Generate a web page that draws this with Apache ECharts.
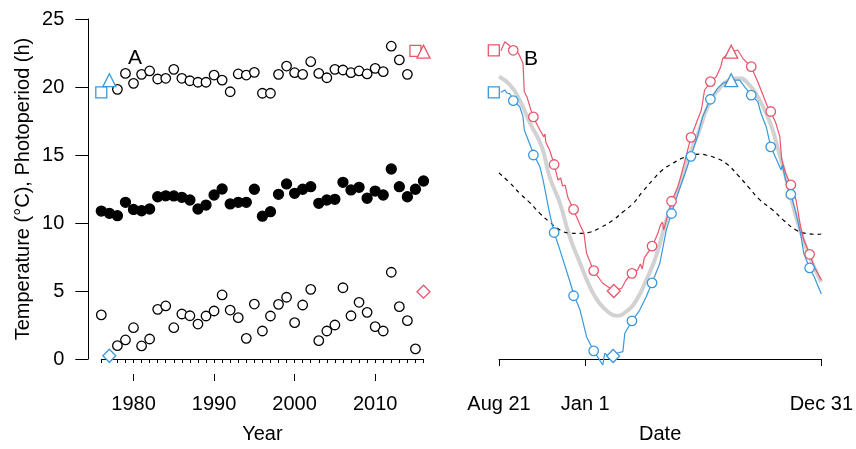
<!DOCTYPE html>
<html>
<head>
<meta charset="utf-8">
<script src="https://cdn.jsdelivr.net/npm/echarts@6/dist/echarts.min.js"></script>
<style>
html,body{margin:0;padding:0;background:#fff}
#main{width:856px;height:449px}
</style>
</head>
<body>
<div id="main"></div>
<script>
// panel A: yearly values
var years = [1976,1977,1978,1979,1980,1981,1982,1983,1984,1985,1986,1987,1988,1989,1990,1991,1992,1993,1994,1995,
  1996,1997,1998,1999,2000,2001,2002,2003,2004,2005,2006,2007,2008,2009,2010,2011,2012,2013,2014,2015,2016];
var tMean = [10.88,10.71,10.54,11.52,11.0,10.9,11.03,11.93,12.0,11.99,11.89,11.69,11.03,11.32,12.06,12.5,11.4,11.52,11.52,12.48,
  10.5,10.83,12.11,12.87,12.18,12.48,12.67,11.45,11.69,11.74,12.99,12.43,12.62,11.82,12.35,12.06,13.97,12.67,11.93,12.48,13.09];
var tMax = [null,null,19.83,21.0,20.27,20.93,21.18,20.59,20.64,21.3,20.64,20.46,20.35,20.35,20.88,20.51,19.65,20.96,20.88,21.08,
  19.54,19.54,20.93,21.54,21.05,20.93,21.86,21.0,20.68,21.3,21.25,21.05,21.18,20.96,21.37,21.13,23.0,21.99,20.93,null,null];
var tMin = [3.24,null,0.98,1.4,2.3,0.96,1.47,3.65,3.9,2.3,3.31,3.18,2.57,3.16,3.53,4.71,3.6,3.04,1.52,4.04,
  2.06,3.16,4.02,4.54,2.67,3.97,5.12,1.35,2.06,2.5,5.24,3.18,4.17,3.43,2.38,2.06,6.38,3.85,2.82,0.74,null];
var yearTicks = [1980,1990,2000,2010];

// panel B: days counted from Aug 21
var dateTicks = [0,133,497];
var dateNames = ['Aug 21','Jan 1','Dec 31'];

var redDay = [3,6,9,12,17,22,30,37,39,43,50,53,63,69,71,72,78,85,91,95,98,102,106,115,125,131,135,146,160,177,189,196,205,214,218,221,224,
  236,245,249,252,254,266,276,283,291,296,306,312,317,326,335,342,345,358,368,376,389,399,406,414,419,427,433,436,442,450,458,465,470,479,486,497];
var redTemp = [22.67,22.72,23.33,23.2,23.01,22.72,22.48,21.74,19.65,19.29,18.18,17.77,16.84,16.35,16.54,15.96,15.37,14.32,13.16,13.31,12.72,12.79,11.91,10.96,9.85,9.24,7.77,6.47,5.57,5.02,5.2,5.81,6.3,6.54,6.99,6.62,7.43,
  8.26,9.24,9.85,10.07,9.49,11.57,12.67,13.9,15.37,16.3,17.57,18.31,19.78,20.35,20.76,21.49,22.11,22.57,22.72,22.11,21.45,20.39,19.54,18.55,18.18,17.33,16.35,14.63,13.65,12.79,11.69,9.73,8.75,7.72,6.79,5.81];

var blueDay = [3,6,9,12,17,23,32,37,39,45,54,63,68,71,78,85,94,107,116,125,135,146,155,160,163,168,176,183,191,194,205,217,227,236,248,253,258,266,276,286,
  296,306,314,326,337,345,358,371,380,389,399,404,412,419,427,435,437,442,450,458,465,470,479,486,497];
var blueTemp = [19.61,19.71,19.78,19.56,19.49,18.99,18.55,17.82,16.84,16.1,15.0,14.14,13.16,12.43,10.71,9.29,8.01,6.05,4.65,3.6,1.64,0.59,-0.07,-0.44,0.42,0.22,0.22,0.44,0.54,1.89,2.79,3.6,4.58,5.61,7.04,8.26,9.49,10.71,12.18,13.53,
  14.93,16.35,17.82,19.12,19.9,20.27,20.51,20.51,19.93,19.41,18.92,18.07,17.08,15.61,14.76,13.9,14.26,13.16,12.13,10.71,9.24,7.77,6.67,6.05,4.78];

var meanDay = [0,17,32,48,66,78,94,109,125,140,155,171,181,196,212,227,242,258,268,283,292,309,324,340,355,371,386,399,412,422,432,442,458,473,488,497];
var meanTemp = [20.76,20.15,19.04,17.33,15.61,13.4,11.45,8.99,7.04,5.32,4.1,3.36,3.18,3.48,4.34,5.81,7.52,10.22,11.47,13.4,14.8,16.84,18.8,19.9,20.51,20.64,20.15,19.29,18.07,16.84,15.13,13.4,10.46,8.26,6.54,5.66];

var photoDay = [0,17,32,48,63,78,94,109,125,140,155,176,191,207,221,237,252,268,283,299,309,319,334,350,371,386,401,422,440,458,473,491,497];
var photoHours = [13.68,12.94,12.18,11.47,10.71,10.07,9.49,9.26,9.23,9.32,9.63,10.22,10.81,11.45,12.28,13.16,13.9,14.39,14.78,15.0,15.07,15.0,14.78,14.39,13.38,12.57,11.76,10.96,10.15,9.49,9.24,9.17,9.19];

var circleDay = [22,53,85,115,146,205,236,266,296,326,389,419,450,479];
var redCircle = [22.7,17.8,14.3,11.0,6.5,6.3,8.3,11.6,16.3,20.4,21.5,18.2,12.8,7.7];
var blueCircle = [19.0,15.0,9.3,4.65,0.6,2.8,5.6,10.7,14.9,19.1,19.4,15.6,12.1,6.7];

var red = '#E8566C';
var blue = '#3A98DA';

function pairs(xs, ys) {
  var out = [];
  for (var i = 0; i < xs.length; i++) {
    if (ys[i] !== null) out.push([xs[i], ys[i]]);
  }
  return out;
}

// xi: x axis index, yi: y axis index
function marks(sym, size, color, xi, yi, data, fill) {
  return {
    type: 'scatter', xAxisIndex: xi, yAxisIndex: yi,
    symbol: sym, symbolSize: size, data: data, clip: false, z: 5,
    itemStyle: {color: fill || '#fff', borderColor: color, borderWidth: 1.3, opacity: 1}
  };
}

function line(xs, ys, color, width, extra) {
  var s = {
    type: 'line', xAxisIndex: 2, yAxisIndex: 1,
    data: pairs(xs, ys), showSymbol: false, clip: false,
    lineStyle: {color: color, width: width}
  };
  for (var k in extra) s[k] = extra[k];
  return s;
}

var txt = {color: '#000', fontSize: 20, fontFamily: 'Liberation Sans'};

var myChart = echarts.init(document.getElementById('main'));
myChart.setOption({
  animation: false,
  textStyle: {fontFamily: 'Liberation Sans'},
  grid: [
    {left: 101.3, width: 322.2, top: 19, height: 340},
    {left: 499, width: 323, top: 19, height: 340}
  ],
  xAxis: [
    {gridIndex: 0, type: 'value', min: 1976, max: 2016, interval: 1, position: 'bottom', offset: 15,
      axisLine: {lineStyle: {color: '#000', width: 1}},
      axisTick: {length: 4, lineStyle: {color: '#000'}},
      axisLabel: {show: false}, splitLine: {show: false}},
    {gridIndex: 0, type: 'value', min: 1976, max: 2016, position: 'bottom', offset: 15,
      axisLine: {show: false},
      axisTick: {customValues: yearTicks, length: 7, lineStyle: {color: '#000'}},
      axisLabel: {customValues: yearTicks, margin: 20, color: '#000', fontSize: 20,
        formatter: function (v) { return String(v); }},
      splitLine: {show: false},
      name: 'Year', nameLocation: 'middle', nameGap: 50, nameTextStyle: txt},
    {gridIndex: 1, type: 'value', min: 0, max: 497, position: 'bottom', offset: 15,
      axisLine: {lineStyle: {color: '#000', width: 1}},
      axisTick: {customValues: dateTicks, length: 7, lineStyle: {color: '#000'}},
      axisLabel: {customValues: dateTicks, margin: 20, color: '#000', fontSize: 20,
        formatter: function (v) { return dateNames[dateTicks.indexOf(v)]; }},
      splitLine: {show: false},
      name: 'Date', nameLocation: 'middle', nameGap: 50, nameTextStyle: txt}
  ],
  yAxis: [
    {gridIndex: 0, type: 'value', min: 0, max: 25, interval: 5, offset: 13,
      axisLine: {show: true, lineStyle: {color: '#000', width: 1}},
      axisTick: {show: true, length: 13, lineStyle: {color: '#000'}},
      axisLabel: {color: '#000', fontSize: 20, margin: 24},
      splitLine: {show: false},
      name: 'Temperature (°C), Photoperiod (h)', nameLocation: 'middle', nameRotate: 90, nameGap: 55, nameTextStyle: txt},
    {gridIndex: 1, type: 'value', min: 0, max: 25, show: false, splitLine: {show: false}}
  ],
  graphic: [
    {type: 'text', left: 128, top: 48, style: {text: 'A', fontSize: 21, fontFamily: 'Liberation Sans', fill: '#000'}},
    {type: 'text', left: 524, top: 49, style: {text: 'B', fontSize: 21, fontFamily: 'Liberation Sans', fill: '#000'}}
  ],
  series: [
    marks('circle', 9.5, '#000', 0, 0, pairs(years, tMax)),
    marks('circle', 10, '#000', 0, 0, pairs(years, tMean), '#000'),
    marks('circle', 9.5, '#000', 0, 0, pairs(years, tMin)),
    marks('rect', 11, blue, 0, 0, [[1976, 19.6]]),
    marks('triangle', 13, blue, 0, 0, [[1977, 20.5]]),
    marks('diamond', 13, blue, 0, 0, [[1977, 0.24]]),
    marks('rect', 11, red, 0, 0, [[2015, 22.65]]),
    marks('triangle', 13, red, 0, 0, [[2016, 22.6]]),
    marks('diamond', 13, red, 0, 0, [[2016, 4.95]]),

    line(meanDay, meanTemp, '#D2D2D2', 4, {smooth: true, z: 1}),
    line(photoDay, photoHours, '#000', 1.2, {smooth: true, z: 2, lineStyle: {color: '#000', width: 1.2, type: [4, 4]}}),
    line(redDay, redTemp, red, 1.2, {z: 3}),
    line(blueDay, blueTemp, blue, 1.2, {z: 3}),
    marks('circle', 9.5, red, 2, 1, pairs(circleDay, redCircle)),
    marks('circle', 9.5, blue, 2, 1, pairs(circleDay, blueCircle)),
    marks('rect', 11, blue, 2, 1, [[-8, 19.6]]),
    marks('rect', 11, red, 2, 1, [[-8, 22.7]]),
    marks('triangle', 13, blue, 2, 1, [[358, 20.5]]),
    marks('triangle', 13, red, 2, 1, [[358, 22.6]]),
    marks('diamond', 13, blue, 2, 1, [[176, 0.22]]),
    marks('diamond', 13, red, 2, 1, [[177, 5.0]])
  ]
});
</script>
</body>
</html>
